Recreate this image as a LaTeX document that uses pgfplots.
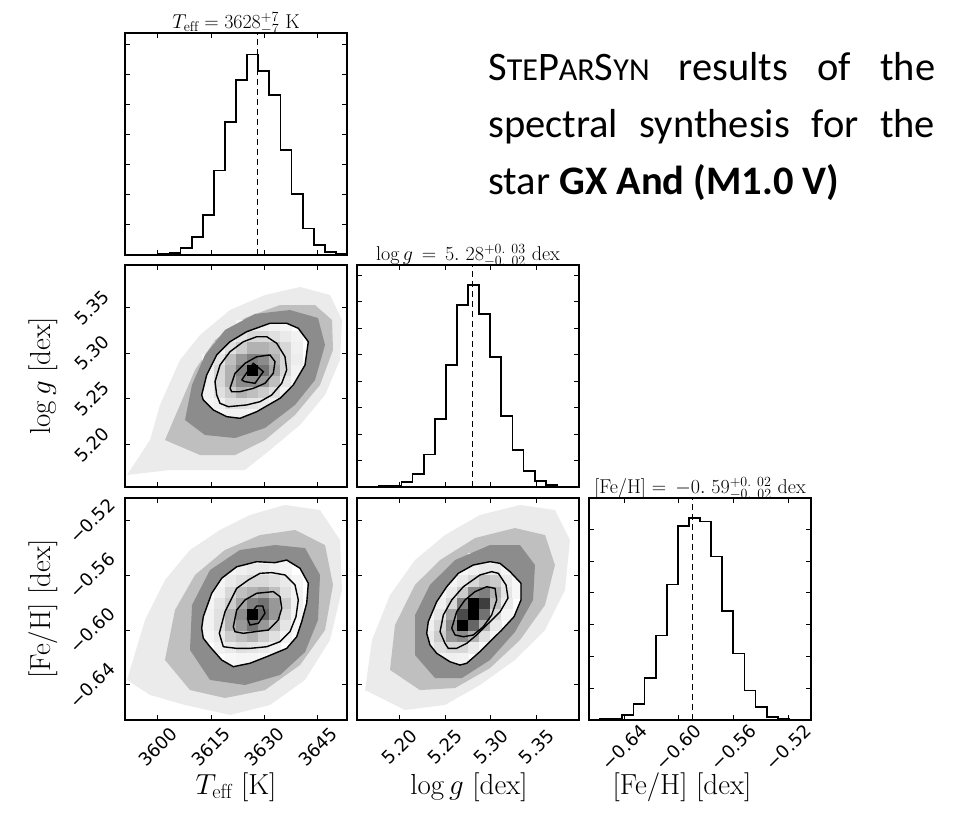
\RequirePackage{fix-cm}
\documentclass[border=0pt]{standalone}
\usepackage{fontspec}
\usepackage{pgfplots}
\pgfplotsset{compat=1.18}
\newfontfamily\dejavu{DejaVu Sans}
\newfontfamily\carlito{Carlito}
\newcommand\tl{\dejavu\fontsize{18}{18}\selectfont}

\pgfplotsset{
  corner/.style={
    scale only axis, width=222pt, height=222pt,
    anchor=south west,
    tick align=inside,
    major tick length=5pt,
    axis line style={line width=1.1pt},
    tick style={black, line width=0.8pt},
    xticklabel style={yshift=-27pt, rotate=45, anchor=center},
    yticklabel style={xshift=-33pt, rotate=45, anchor=center},
    every axis title shift=0pt,
    title style={font=\fontsize{20}{22}\selectfont, yshift=-5pt},
    unbounded coords=jump,
    clip marker paths=true,
  },
  cornermap/.style={colormap={wb}{gray(0cm)=(1); gray(1cm)=(0)}, point meta min=0, point meta max=1},
  cphist/.style={const plot, black, line width=1.8pt},
  cpmed/.style={black, line width=1.4pt, dash pattern=on 6pt off 4pt},
  cpcont/.style={black, line width=1.4pt},
  cpcells/.style={scatter, only marks, mark=square*, mark size=5.6pt, point meta=explicit,
    scatter/use mapped color={draw=mapped color, fill=mapped color}},
}

\begin{document}
\begin{tikzpicture}[x=1pt,y=1pt]
\path[use as bounding box] (0,0) rectangle (958,819);

% ---------------- Panel 1: Teff histogram ----------------
\begin{axis}[corner, at={(125pt,564pt)},
  xmin=3590.75, xmax=3653.25, ymin=0, ymax=670,
  xtick={3600,3615,3630,3645}, ytick={91,182,273,364,455,546,637},
  xticklabels={}, yticklabels={},
  title={$T_{\mathrm{eff}}=3628^{+7}_{-7}$ K}]
\addplot[cphist] coordinates {(3590.75,0) (3593.875,0) (3597.0,0) (3600.125,2) (3603.25,5) (3606.375,22) (3609.5,54) (3612.625,120) (3615.75,255) (3618.875,402) (3622.0,527) (3625.125,605) (3628.25,555) (3631.375,483) (3634.5,318) (3637.625,183) (3640.75,80) (3643.875,30) (3647.0,10) (3650.125,3) (3653.25,3)};
\addplot[cpmed] coordinates {(3628,0) (3628,670)};
\end{axis}

% ---------------- Panel 2: Teff vs logg ----------------
\begin{axis}[corner, cornermap, at={(125pt,332pt)},
  xmin=3590.75, xmax=3653.25, ymin=5.1535, ymax=5.3965,
  xtick={3600,3615,3630,3645}, ytick={5.20,5.25,5.30,5.35},
  xticklabels={}, yticklabels={{\tl 5.20},{\tl 5.25},{\tl 5.30},{\tl 5.35}}]
\addplot[fill=black!8, draw=none] coordinates {(3591.31,5.1666) (3597.79,5.2049) (3600.60,5.2433) (3606.23,5.2925) (3611.86,5.3199) (3620.31,5.3472) (3630.16,5.3637) (3640.02,5.3724) (3648.46,5.3637) (3651.84,5.3363) (3651.28,5.2925) (3647.06,5.2542) (3640.02,5.2214) (3631.57,5.1940) (3624.53,5.1721) (3614.68,5.1721) (3603.42,5.1721) (3591.31,5.1666)};
\addplot[fill=black!25, draw=none] coordinates {(3602.01,5.2049) (3606.23,5.2433) (3610.46,5.2816) (3616.09,5.3144) (3624.53,5.3385) (3634.39,5.3527) (3644.24,5.3527) (3649.03,5.3363) (3649.31,5.3035) (3645.65,5.2652) (3638.61,5.2323) (3630.16,5.2049) (3621.72,5.1885) (3611.86,5.1885) (3602.01,5.2049)};
\addplot[fill=white, draw=none] coordinates {(3612.34,5.2542) (3613.75,5.2761) (3616.57,5.2980) (3620.31,5.3125) (3625.01,5.3235) (3631.57,5.3327) (3636.27,5.3327) (3639.54,5.3272) (3642.35,5.3125) (3641.43,5.2870) (3638.13,5.2652) (3634.39,5.2506) (3627.83,5.2359) (3623.13,5.2287) (3619.38,5.2305) (3615.61,5.2378) (3612.79,5.2487) (3612.34,5.2542)};
\addplot[cpcells] table[meta=c] {
x y c
3623.56 5.3297 0.04
3626.69 5.3297 0.06
3629.81 5.3297 0.06
3632.94 5.3297 0.05
3636.06 5.3297 0.04
3620.44 5.3175 0.05
3623.56 5.3175 0.10
3626.69 5.3175 0.15
3629.81 5.3175 0.15
3632.94 5.3175 0.12
3636.06 5.3175 0.08
3639.19 5.3175 0.05
3617.31 5.3054 0.05
3620.44 5.3054 0.12
3623.56 5.3054 0.20
3626.69 5.3054 0.30
3629.81 5.3054 0.30
3632.94 5.3054 0.25
3636.06 5.3054 0.15
3639.19 5.3054 0.06
3614.19 5.2932 0.04
3617.31 5.2932 0.10
3620.44 5.2932 0.25
3623.56 5.2932 0.40
3626.69 5.2932 0.50
3629.81 5.2932 0.45
3632.94 5.2932 0.30
3636.06 5.2932 0.15
3639.19 5.2932 0.07
3614.19 5.2811 0.06
3617.31 5.2811 0.15
3620.44 5.2811 0.30
3623.56 5.2811 0.50
3626.69 5.2811 1.00
3629.81 5.2811 0.55
3632.94 5.2811 0.35
3636.06 5.2811 0.15
3639.19 5.2811 0.05
3614.19 5.2689 0.06
3617.31 5.2689 0.15
3620.44 5.2689 0.30
3623.56 5.2689 0.45
3626.69 5.2689 0.45
3629.81 5.2689 0.40
3632.94 5.2689 0.25
3636.06 5.2689 0.10
3639.19 5.2689 0.04
3614.19 5.2568 0.05
3617.31 5.2568 0.12
3620.44 5.2568 0.20
3623.56 5.2568 0.30
3626.69 5.2568 0.25
3629.81 5.2568 0.20
3632.94 5.2568 0.12
3636.06 5.2568 0.05
3614.19 5.2446 0.04
3617.31 5.2446 0.06
3620.44 5.2446 0.12
3623.56 5.2446 0.12
3626.69 5.2446 0.10
3629.81 5.2446 0.08
3632.94 5.2446 0.05
3617.31 5.2325 0.04
3620.44 5.2325 0.05
3623.56 5.2325 0.05
3626.69 5.2325 0.04
};
\addplot[fill=black!45, draw=none, even odd rule] coordinates {(3607.64,5.2268) (3609.61,5.2652) (3613.27,5.2980) (3618.90,5.3254) (3627.35,5.3429) (3637.20,5.3472) (3645.09,5.3385) (3647.06,5.3089) (3644.24,5.2706) (3638.61,5.2433) (3630.16,5.2181) (3621.72,5.2071) (3613.27,5.2104) (3607.64,5.2268) (nan,nan)
(3612.34,5.2542) (3613.75,5.2761) (3616.57,5.2980) (3620.31,5.3125) (3625.01,5.3235) (3631.57,5.3327) (3636.27,5.3327) (3639.54,5.3272) (3642.35,5.3125) (3641.43,5.2870) (3638.13,5.2652) (3634.39,5.2506) (3627.83,5.2359) (3623.13,5.2287) (3619.38,5.2305) (3615.61,5.2378) (3612.79,5.2487) (3612.34,5.2542)};
\addplot[cpcont] coordinates {(3612.34,5.2542) (3613.75,5.2761) (3616.57,5.2980) (3620.31,5.3125) (3625.01,5.3235) (3631.57,5.3327) (3636.27,5.3327) (3639.54,5.3272) (3642.35,5.3125) (3641.43,5.2870) (3638.13,5.2652) (3634.39,5.2506) (3627.83,5.2359) (3623.13,5.2287) (3619.38,5.2305) (3615.61,5.2378) (3612.79,5.2487) (3612.34,5.2542)};
\addplot[cpcont] coordinates {(3616.57,5.2542) (3616.09,5.2688) (3617.50,5.2870) (3620.31,5.3016) (3624.06,5.3125) (3627.83,5.3180) (3630.64,5.3180) (3633.46,5.3108) (3635.79,5.2961) (3636.27,5.2816) (3634.87,5.2670) (3632.05,5.2542) (3628.76,5.2469) (3625.01,5.2433) (3619.83,5.2414) (3617.50,5.2451) (3616.57,5.2542)};
\addplot[cpcont] coordinates {(3620.31,5.2615) (3621.72,5.2780) (3624.53,5.2889) (3627.83,5.2961) (3631.57,5.2980) (3632.98,5.2907) (3632.50,5.2780) (3630.16,5.2670) (3626.87,5.2615) (3623.13,5.2578) (3620.79,5.2578) (3620.31,5.2615)};
\addplot[cpcont] coordinates {(3623.60,5.2706) (3626.87,5.2889) (3629.69,5.2797) (3627.35,5.2670) (3624.53,5.2688) (3623.60,5.2706)};
\end{axis}

% ---------------- Panel 3: logg histogram ----------------
\begin{axis}[corner, at={(357pt,332pt)},
  xmin=5.1535, xmax=5.3965, ymin=0, ymax=662,
  xtick={5.20,5.25,5.30,5.35}, ytick={79,158,237,316,395,474,553,632},
  xticklabels={}, yticklabels={},
  title={$\log g\,=\,5.\ 28^{+0.\ 03}_{-0.\ 02}$ dex}]
\addplot[cphist] coordinates {(5.1535,0) (5.16565,0) (5.1778,2) (5.18995,3) (5.2021,15) (5.21425,38) (5.2264,97) (5.23855,203) (5.2507,363) (5.26285,542) (5.275,602) (5.28715,517) (5.2993,388) (5.31145,212) (5.3236,110) (5.33575,47) (5.3479,18) (5.36005,5) (5.3722,0) (5.38435,0) (5.3965,0)};
\addplot[cpmed] coordinates {(5.28,0) (5.28,662)};
\end{axis}

% ---------------- Panel 4: Teff vs [Fe/H] ----------------
\begin{axis}[corner, cornermap, at={(125pt,99pt)},
  xmin=3590.75, xmax=3653.25, ymin=-0.6657, ymax=-0.5033,
  xtick={3600,3615,3630,3645}, ytick={-0.64,-0.60,-0.56,-0.52},
  xticklabels={{\tl 3600},{\tl 3615},{\tl 3630},{\tl 3645}},
  yticklabels={{\tl −0.64},{\tl −0.60},{\tl −0.56},{\tl −0.52}}]
\addplot[fill=black!8, draw=none] coordinates {(3591.31,-0.6364) (3596.38,-0.5925) (3602.01,-0.5633) (3609.05,-0.5413) (3617.50,-0.5267) (3625.94,-0.5157) (3635.79,-0.5084) (3645.65,-0.5121) (3651.28,-0.5340) (3651.84,-0.5706) (3648.46,-0.6072) (3641.43,-0.6364) (3631.57,-0.6547) (3620.31,-0.6620) (3607.64,-0.6547) (3597.79,-0.6474) (3591.31,-0.6364)};
\addplot[fill=black!25, draw=none] coordinates {(3602.01,-0.6218) (3604.83,-0.5852) (3610.46,-0.5596) (3618.90,-0.5413) (3628.76,-0.5304) (3638.61,-0.5267) (3647.06,-0.5377) (3649.31,-0.5669) (3647.06,-0.5999) (3640.02,-0.6255) (3630.16,-0.6438) (3618.90,-0.6496) (3609.05,-0.6438) (3602.01,-0.6218)};
\addplot[fill=white, draw=none] coordinates {(3612.34,-0.5986) (3612.79,-0.5901) (3615.16,-0.5730) (3617.97,-0.5620) (3622.20,-0.5536) (3627.83,-0.5499) (3632.98,-0.5506) (3636.27,-0.5487) (3640.02,-0.5547) (3642.35,-0.5657) (3641.90,-0.5803) (3640.50,-0.5938) (3639.09,-0.6048) (3636.27,-0.6133) (3630.64,-0.6194) (3625.94,-0.6242) (3621.24,-0.6267) (3617.97,-0.6218) (3614.68,-0.6121) (3612.79,-0.6059) (3612.34,-0.5986)};
\addplot[cpcells] table[meta=c] {
x y c
3623.56 -0.5479 0.04
3626.69 -0.5479 0.04
3629.81 -0.5479 0.04
3632.94 -0.5479 0.04
3636.06 -0.5479 0.04
3620.44 -0.5560 0.04
3623.56 -0.5560 0.06
3626.69 -0.5560 0.08
3629.81 -0.5560 0.08
3632.94 -0.5560 0.06
3636.06 -0.5560 0.04
3617.31 -0.5642 0.04
3620.44 -0.5642 0.08
3623.56 -0.5642 0.12
3626.69 -0.5642 0.15
3629.81 -0.5642 0.15
3632.94 -0.5642 0.12
3636.06 -0.5642 0.08
3639.19 -0.5642 0.04
3617.31 -0.5723 0.06
3620.44 -0.5723 0.15
3623.56 -0.5723 0.25
3626.69 -0.5723 0.30
3629.81 -0.5723 0.35
3632.94 -0.5723 0.25
3636.06 -0.5723 0.12
3639.19 -0.5723 0.05
3614.19 -0.5804 0.04
3617.31 -0.5804 0.10
3620.44 -0.5804 0.20
3623.56 -0.5804 0.35
3626.69 -0.5804 0.50
3629.81 -0.5804 0.55
3632.94 -0.5804 0.40
3636.06 -0.5804 0.20
3639.19 -0.5804 0.06
3614.19 -0.5885 0.05
3617.31 -0.5885 0.12
3620.44 -0.5885 0.30
3623.56 -0.5885 0.45
3626.69 -0.5885 1.00
3629.81 -0.5885 0.60
3632.94 -0.5885 0.40
3636.06 -0.5885 0.15
3639.19 -0.5885 0.05
3614.19 -0.5967 0.05
3617.31 -0.5967 0.12
3620.44 -0.5967 0.30
3623.56 -0.5967 0.40
3626.69 -0.5967 0.55
3629.81 -0.5967 0.40
3632.94 -0.5967 0.25
3636.06 -0.5967 0.10
3639.19 -0.5967 0.04
3614.19 -0.6048 0.04
3617.31 -0.6048 0.08
3620.44 -0.6048 0.20
3623.56 -0.6048 0.25
3626.69 -0.6048 0.30
3629.81 -0.6048 0.20
3632.94 -0.6048 0.12
3636.06 -0.6048 0.05
3617.31 -0.6129 0.05
3620.44 -0.6129 0.08
3623.56 -0.6129 0.12
3626.69 -0.6129 0.10
3629.81 -0.6129 0.08
3632.94 -0.6129 0.05
3620.44 -0.6210 0.03
3623.56 -0.6210 0.04
3626.69 -0.6210 0.04
3629.81 -0.6210 0.03
};
\addplot[fill=black!45, draw=none, even odd rule] coordinates {(3609.05,-0.6145) (3609.61,-0.5816) (3614.68,-0.5560) (3623.13,-0.5413) (3632.98,-0.5377) (3641.43,-0.5399) (3645.65,-0.5596) (3645.09,-0.5925) (3641.43,-0.6160) (3634.39,-0.6328) (3624.53,-0.6401) (3614.68,-0.6364) (3609.05,-0.6145) (nan,nan)
(3612.34,-0.5986) (3612.79,-0.5901) (3615.16,-0.5730) (3617.97,-0.5620) (3622.20,-0.5536) (3627.83,-0.5499) (3632.98,-0.5506) (3636.27,-0.5487) (3640.02,-0.5547) (3642.35,-0.5657) (3641.90,-0.5803) (3640.50,-0.5938) (3639.09,-0.6048) (3636.27,-0.6133) (3630.64,-0.6194) (3625.94,-0.6242) (3621.24,-0.6267) (3617.97,-0.6218) (3614.68,-0.6121) (3612.79,-0.6059) (3612.34,-0.5986)};
\addplot[cpcont] coordinates {(3612.34,-0.5986) (3612.79,-0.5901) (3615.16,-0.5730) (3617.97,-0.5620) (3622.20,-0.5536) (3627.83,-0.5499) (3632.98,-0.5506) (3636.27,-0.5487) (3640.02,-0.5547) (3642.35,-0.5657) (3641.90,-0.5803) (3640.50,-0.5938) (3639.09,-0.6048) (3636.27,-0.6133) (3630.64,-0.6194) (3625.94,-0.6242) (3621.24,-0.6267) (3617.97,-0.6218) (3614.68,-0.6121) (3612.79,-0.6059) (3612.34,-0.5986)};
\addplot[cpcont] coordinates {(3618.42,-0.6121) (3617.30,-0.6023) (3618.90,-0.5865) (3622.20,-0.5694) (3625.46,-0.5633) (3628.76,-0.5584) (3632.05,-0.5579) (3635.79,-0.5596) (3638.61,-0.5669) (3639.54,-0.5779) (3638.89,-0.5901) (3637.20,-0.6011) (3634.39,-0.6084) (3630.64,-0.6121) (3625.94,-0.6133) (3622.20,-0.6133) (3618.42,-0.6121)};
\addplot[cpcont] coordinates {(3621.24,-0.5975) (3622.20,-0.5852) (3624.53,-0.5779) (3627.83,-0.5730) (3632.50,-0.5718) (3634.39,-0.5755) (3634.87,-0.5840) (3633.91,-0.5925) (3631.09,-0.5999) (3627.35,-0.6011) (3624.06,-0.6023) (3621.72,-0.6011) (3621.24,-0.5975)};
\addplot[cpcont] coordinates {(3625.18,-0.5913) (3627.83,-0.5823) (3629.52,-0.5823) (3630.16,-0.5876) (3628.28,-0.5950) (3625.94,-0.5962) (3625.18,-0.5913)};
\end{axis}

% ---------------- Panel 5: logg vs [Fe/H] ----------------
\begin{axis}[corner, cornermap, at={(357pt,99pt)},
  xmin=5.1535, xmax=5.3965, ymin=-0.6657, ymax=-0.5033,
  xtick={5.20,5.25,5.30,5.35}, ytick={-0.64,-0.60,-0.56,-0.52},
  xticklabels={{\tl 5.20},{\tl 5.25},{\tl 5.30},{\tl 5.35}}, yticklabels={}]
\addplot[fill=black!8, draw=none] coordinates {(5.1623,-0.6438) (5.1699,-0.6072) (5.1896,-0.5743) (5.2170,-0.5487) (5.2498,-0.5304) (5.2881,-0.5157) (5.3319,-0.5084) (5.3702,-0.5121) (5.3866,-0.5340) (5.3812,-0.5706) (5.3593,-0.5999) (5.3264,-0.6218) (5.2881,-0.6401) (5.2498,-0.6547) (5.2060,-0.6584) (5.1623,-0.6438)};
\addplot[fill=black!25, draw=none] coordinates {(5.1896,-0.6291) (5.1951,-0.5962) (5.2170,-0.5669) (5.2444,-0.5487) (5.2827,-0.5326) (5.3264,-0.5253) (5.3593,-0.5304) (5.3702,-0.5523) (5.3593,-0.5816) (5.3319,-0.6072) (5.2991,-0.6277) (5.2608,-0.6423) (5.2225,-0.6438) (5.1896,-0.6291)};
\addplot[fill=white, draw=none] coordinates {(5.2298,-0.6023) (5.2315,-0.5938) (5.2407,-0.5792) (5.2517,-0.5682) (5.2644,-0.5584) (5.2808,-0.5523) (5.2991,-0.5499) (5.3100,-0.5511) (5.3210,-0.5572) (5.3330,-0.5657) (5.3330,-0.5779) (5.3254,-0.5901) (5.3119,-0.5999) (5.3009,-0.6072) (5.2881,-0.6157) (5.2736,-0.6242) (5.2662,-0.6255) (5.2553,-0.6231) (5.2407,-0.6169) (5.2334,-0.6108) (5.2298,-0.6023)};
\addplot[cpcells] table[meta=c] {
x y c
5.2811 -0.5479 0.03
5.2932 -0.5479 0.04
5.3054 -0.5479 0.04
5.2689 -0.5560 0.03
5.2811 -0.5560 0.06
5.2932 -0.5560 0.08
5.3054 -0.5560 0.08
5.3175 -0.5560 0.04
5.2568 -0.5642 0.04
5.2689 -0.5642 0.08
5.2811 -0.5642 0.15
5.2932 -0.5642 0.25
5.3054 -0.5642 0.20
5.3175 -0.5642 0.08
5.3297 -0.5642 0.03
5.2446 -0.5723 0.03
5.2568 -0.5723 0.08
5.2689 -0.5723 0.20
5.2811 -0.5723 0.45
5.2932 -0.5723 0.50
5.3054 -0.5723 0.30
5.3175 -0.5723 0.10
5.3297 -0.5723 0.03
5.2325 -0.5804 0.03
5.2446 -0.5804 0.06
5.2568 -0.5804 0.15
5.2689 -0.5804 0.50
5.2811 -0.5804 1.00
5.2932 -0.5804 0.75
5.3054 -0.5804 0.25
5.3175 -0.5804 0.08
5.2325 -0.5885 0.04
5.2446 -0.5885 0.10
5.2568 -0.5885 0.35
5.2689 -0.5885 0.70
5.2811 -0.5885 1.00
5.2932 -0.5885 0.55
5.3054 -0.5885 0.15
5.3175 -0.5885 0.04
5.2325 -0.5967 0.06
5.2446 -0.5967 0.15
5.2568 -0.5967 0.45
5.2689 -0.5967 1.00
5.2811 -0.5967 0.60
5.2932 -0.5967 0.30
5.3054 -0.5967 0.08
5.2325 -0.6048 0.08
5.2446 -0.6048 0.20
5.2568 -0.6048 0.40
5.2689 -0.6048 0.45
5.2811 -0.6048 0.30
5.2932 -0.6048 0.12
5.3054 -0.6048 0.03
5.2325 -0.6129 0.06
5.2446 -0.6129 0.12
5.2568 -0.6129 0.15
5.2689 -0.6129 0.15
5.2811 -0.6129 0.08
5.2932 -0.6129 0.03
5.2325 -0.6210 0.03
5.2446 -0.6210 0.05
5.2568 -0.6210 0.06
5.2689 -0.6210 0.05
};
\addplot[fill=black!45, draw=none, even odd rule] coordinates {(5.2170,-0.6182) (5.2170,-0.5889) (5.2334,-0.5669) (5.2608,-0.5487) (5.2991,-0.5377) (5.3319,-0.5377) (5.3483,-0.5523) (5.3462,-0.5779) (5.3264,-0.6013) (5.2991,-0.6218) (5.2684,-0.6350) (5.2389,-0.6350) (5.2170,-0.6182) (nan,nan)
(5.2298,-0.6023) (5.2315,-0.5938) (5.2407,-0.5792) (5.2517,-0.5682) (5.2644,-0.5584) (5.2808,-0.5523) (5.2991,-0.5499) (5.3100,-0.5511) (5.3210,-0.5572) (5.3330,-0.5657) (5.3330,-0.5779) (5.3254,-0.5901) (5.3119,-0.5999) (5.3009,-0.6072) (5.2881,-0.6157) (5.2736,-0.6242) (5.2662,-0.6255) (5.2553,-0.6231) (5.2407,-0.6169) (5.2334,-0.6108) (5.2298,-0.6023)};
\addplot[cpcont] coordinates {(5.2298,-0.6023) (5.2315,-0.5938) (5.2407,-0.5792) (5.2517,-0.5682) (5.2644,-0.5584) (5.2808,-0.5523) (5.2991,-0.5499) (5.3100,-0.5511) (5.3210,-0.5572) (5.3330,-0.5657) (5.3330,-0.5779) (5.3254,-0.5901) (5.3119,-0.5999) (5.3009,-0.6072) (5.2881,-0.6157) (5.2736,-0.6242) (5.2662,-0.6255) (5.2553,-0.6231) (5.2407,-0.6169) (5.2334,-0.6108) (5.2298,-0.6023)};
\addplot[cpcont] coordinates {(5.2498,-0.6096) (5.2444,-0.6011) (5.2480,-0.5889) (5.2572,-0.5779) (5.2699,-0.5682) (5.2881,-0.5596) (5.3009,-0.5572) (5.3082,-0.5584) (5.3166,-0.5669) (5.3188,-0.5765) (5.3100,-0.5867) (5.2955,-0.5962) (5.2845,-0.6035) (5.2736,-0.6096) (5.2626,-0.6133) (5.2534,-0.6133) (5.2498,-0.6096)};
\addplot[cpcont] coordinates {(5.2572,-0.5986) (5.2626,-0.5865) (5.2717,-0.5779) (5.2827,-0.5718) (5.2955,-0.5682) (5.3046,-0.5694) (5.3064,-0.5779) (5.3009,-0.5889) (5.2917,-0.5975) (5.2808,-0.6035) (5.2699,-0.6048) (5.2608,-0.6035) (5.2572,-0.5986)};
\end{axis}

% ---------------- Panel 6: [Fe/H] histogram ----------------
\begin{axis}[corner, at={(589pt,99pt)},
  xmin=-0.6657, xmax=-0.5033, ymin=0, ymax=660,
  xtick={-0.64,-0.60,-0.56,-0.52}, ytick={94.5,189,283.5,378,472.5,567},
  xticklabels={{\tl −0.64},{\tl −0.60},{\tl −0.56},{\tl −0.52}}, yticklabels={},
  title={[Fe/H] $=\,-0.\ 59^{+0.\ 02}_{-0.\ 02}$ dex}]
\addplot[cphist] coordinates {(-0.6657,0) (-0.65758,2) (-0.64946,3) (-0.64134,16) (-0.63322,48) (-0.6251,126) (-0.61698,251) (-0.60886,403) (-0.60074,576) (-0.59262,600) (-0.5845,590) (-0.57638,486) (-0.56826,323) (-0.56014,198) (-0.55202,88) (-0.5439,38) (-0.53578,8) (-0.52766,3) (-0.51954,0) (-0.51142,0) (-0.5033,0)};
\addplot[cpmed] coordinates {(-0.59,0) (-0.59,660)};
\end{axis}

% ---------------- axis labels ----------------
\begin{scope}[every node/.style={font=\fontsize{29}{29}\selectfont}]
\node at (236,32) {$T_{\mathrm{eff}}$ [K]};
\node at (469,32) {$\log g$ [dex]};
\node at (682,32) {[Fe/H] [dex]};
\node[rotate=90] at (43,443) {$\log g$ [dex]};
\node[rotate=90] at (43,210) {[Fe/H] [dex]};
\end{scope}

% ---------------- annotation ----------------
\node[anchor=north west, inner sep=0pt, text width=447pt, align=justify,
      font=\carlito\fontsize{40.5}{57}\selectfont] at (488,767)
 {\hyphenpenalty=10000 S{\fontsize{32}{57}\selectfont TE}P{\fontsize{32}{57}\selectfont AR}S{\fontsize{32}{57}\selectfont YN} results of the\linebreak spectral synthesis for the\linebreak star \textbf{GX And (M1.0 V)}};
\end{tikzpicture}
\end{document}
